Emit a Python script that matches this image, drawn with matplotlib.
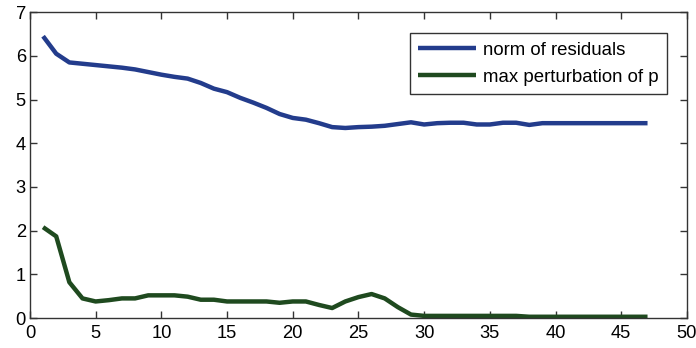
import matplotlib
matplotlib.use("Agg")
import matplotlib.pyplot as plt

iterations = list(range(1, 48))
norm_residuals = [6.45, 6.05, 5.85, 5.82, 5.79, 5.76, 5.73, 5.69, 5.63, 5.57, 5.52, 5.48, 5.38, 5.25, 5.17, 5.04, 4.93, 4.81, 4.67, 4.58, 4.54, 4.46, 4.37, 4.35,
                  4.37, 4.38, 4.40, 4.44, 4.48, 4.43, 4.46, 4.47, 4.47, 4.43, 4.43, 4.47, 4.47, 4.42, 4.46, 4.46, 4.46, 4.46, 4.46, 4.46, 4.46, 4.46, 4.46]
max_perturbation = [2.08, 1.87, 0.82, 0.45, 0.38, 0.41, 0.45, 0.45, 0.52, 0.52, 0.52, 0.49, 0.42, 0.42, 0.38, 0.38, 0.38, 0.38, 0.35, 0.38, 0.38, 0.30, 0.23, 0.38,
                    0.48, 0.55, 0.45, 0.25, 0.08, 0.05, 0.05, 0.05, 0.05, 0.05, 0.05, 0.05, 0.05, 0.03, 0.03, 0.03, 0.03, 0.03, 0.03, 0.03, 0.03, 0.03, 0.03]
labels = ["norm of residuals", "max perturbation of p"]
xticks = [0, 5, 10, 15, 20, 25, 30, 35, 40, 45, 50]
yticks = [0, 1, 2, 3, 4, 5, 6, 7]

plt.rcParams['font.family'] = ['Liberation Sans', 'DejaVu Sans']
fig = plt.figure(figsize=(6.96, 3.48), dpi=100)
ax = fig.add_axes([0.043, 0.086, 0.944, 0.879])
ax.plot(iterations, norm_residuals, color="#233c8c", lw=3.2, label=labels[0], solid_capstyle='butt')
ax.plot(iterations, max_perturbation, color="#1f4a1f", lw=3.2, label=labels[1], solid_capstyle='butt')
ax.set_xlim(0, 50)
ax.set_ylim(0, 7)
ax.set_xticks(xticks)
ax.set_yticks(yticks)
ax.tick_params(direction='in', top=True, right=True, labelsize=13.2, length=5, width=1, color="#333333")
ax.tick_params(axis='x', pad=5)
ax.tick_params(axis='y', pad=3)
for s in ax.spines.values():
    s.set_color("#333333")
    s.set_linewidth(1)
leg = ax.legend(loc='upper right', bbox_to_anchor=(0.9696, 0.931), fontsize=13.4, frameon=True, fancybox=False,
                edgecolor="#333333", framealpha=1, handlelength=3.1, handletextpad=0.38, borderpad=0.45,
                labelspacing=0.55, borderaxespad=0)
leg.get_frame().set_linewidth(1)
fig.savefig("out.png", dpi=100)
